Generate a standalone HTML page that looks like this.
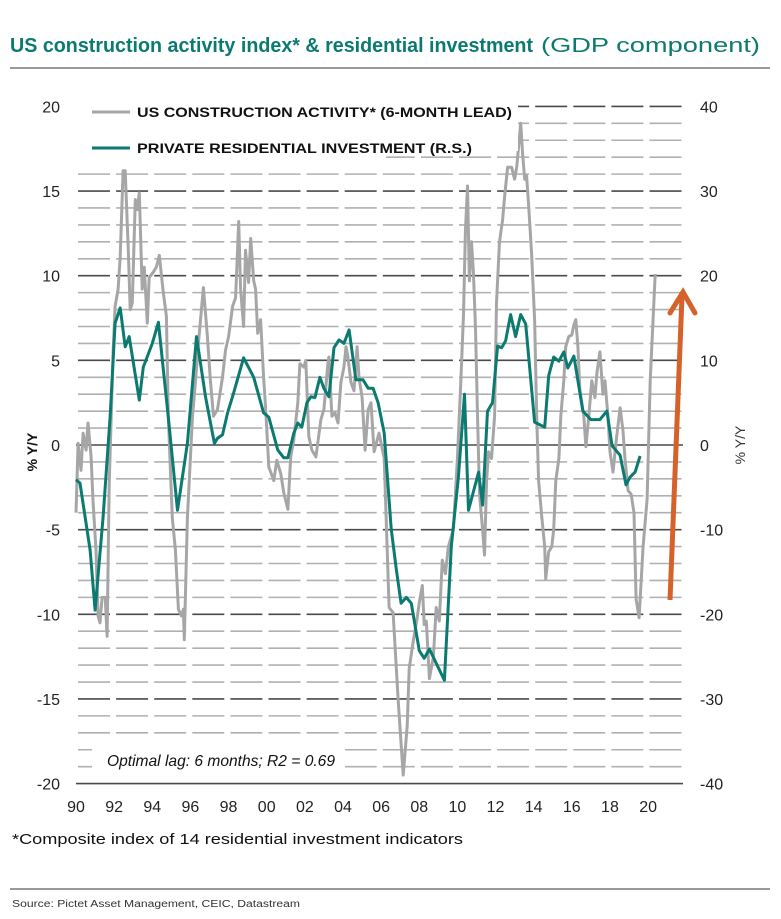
<!DOCTYPE html>
<html><head><meta charset="utf-8"><style>
html,body{margin:0;padding:0;background:#fff;}
svg{display:block;font-family:"Liberation Sans",sans-serif;}
</style></head><body>
<svg id="chart" width="781" height="919" viewBox="0 0 781 919" xmlns="http://www.w3.org/2000/svg">
<text x="10" y="52" font-size="20" font-weight="bold" fill="#0b7a70" textLength="523" lengthAdjust="spacingAndGlyphs">US construction activity index* &amp; residential investment</text>
<text x="541" y="52" font-size="20" fill="#0b7a70" textLength="219" lengthAdjust="spacingAndGlyphs">(GDP component)</text>
<line x1="10" y1="68" x2="770" y2="68" stroke="#333" stroke-width="1"/>
<g id="grid"></g>
<g id="series"></g>
<rect x="78" y="96" width="440" height="55" fill="#fff"/>
<rect x="78" y="150" width="308" height="16" fill="#fff"/>
<g>
<line x1="92" y1="112" x2="130" y2="112" stroke="#a6a6a6" stroke-width="3"/>
<text x="137" y="117" font-size="13.5" font-weight="bold" fill="#111" textLength="375" lengthAdjust="spacingAndGlyphs">US CONSTRUCTION ACTIVITY* (6-MONTH LEAD)</text>
<line x1="92" y1="148" x2="130" y2="148" stroke="#0b7a70" stroke-width="3"/>
<text x="137" y="153" font-size="13.5" font-weight="bold" fill="#111" textLength="335" lengthAdjust="spacingAndGlyphs">PRIVATE RESIDENTIAL INVESTMENT (R.S.)</text>
</g>
<rect x="92" y="740" width="253" height="37" fill="#fff"/>
<text x="107" y="766" font-size="16" font-style="italic" fill="#111" textLength="228" lengthAdjust="spacingAndGlyphs">Optimal lag: 6 months;  R2 = 0.69</text>
<g id="axes"></g>
<text transform="translate(37,452) rotate(-90)" text-anchor="middle" font-size="14" font-weight="bold" fill="#111">% Y/Y</text>
<text transform="translate(745,445) rotate(-90)" text-anchor="middle" font-size="14" fill="#333">% Y/Y</text>
<g>
<line x1="670" y1="600" x2="682" y2="296" stroke="#d5622b" stroke-width="5"/>
<polyline points="670,313 683,292 695,313" fill="none" stroke="#d5622b" stroke-width="5" stroke-linecap="round"/>
</g>
<text x="12" y="844" font-size="15" fill="#111" textLength="451" lengthAdjust="spacingAndGlyphs">*Composite index of 14 residential investment indicators</text>
<line x1="10" y1="889" x2="770" y2="889" stroke="#333" stroke-width="1"/>
<text x="12" y="907" font-size="10" fill="#333" textLength="288" lengthAdjust="spacingAndGlyphs">Source: Pictet Asset Management, CEIC, Datastream</text>
</svg>
<script>
const constructionYears=[1990.00,1990.11,1990.26,1990.37,1990.53,1990.63,1990.79,1990.89,1991.05,1991.16,1991.26,1991.37,1991.53,1991.63,1991.74,1991.95,1992.05,1992.21,1992.32,1992.47,1992.58,1992.74,1992.84,1992.95,1993.11,1993.21,1993.32,1993.47,1993.58,1993.74,1993.84,1994.05,1994.21,1994.37,1994.58,1994.74,1994.84,1995.05,1995.21,1995.37,1995.53,1995.63,1995.68,1995.84,1996.11,1996.26,1996.42,1996.68,1996.89,1997.05,1997.21,1997.42,1997.68,1997.84,1998.00,1998.21,1998.37,1998.53,1998.63,1998.79,1998.89,1999.05,1999.16,1999.32,1999.42,1999.53,1999.68,1999.84,1999.95,2000.11,2000.37,2000.53,2000.74,2000.89,2001.11,2001.26,2001.42,2001.63,2001.74,2001.95,2002.05,2002.21,2002.37,2002.58,2002.84,2003.00,2003.21,2003.26,2003.42,2003.58,2003.74,2003.89,2004.05,2004.16,2004.26,2004.42,2004.58,2004.74,2004.84,2005.00,2005.16,2005.32,2005.47,2005.63,2005.89,2006.16,2006.42,2006.63,2006.89,2007.16,2007.37,2007.47,2007.68,2007.89,2008.00,2008.16,2008.26,2008.37,2008.53,2008.74,2008.89,2009.05,2009.21,2009.37,2009.53,2009.79,2010.00,2010.16,2010.32,2010.42,2010.53,2010.63,2010.74,2010.84,2010.95,2011.05,2011.16,2011.32,2011.42,2011.53,2011.63,2011.79,2011.95,2012.05,2012.21,2012.37,2012.47,2012.63,2012.84,2013.00,2013.11,2013.32,2013.42,2013.53,2013.63,2013.74,2013.89,2014.05,2014.16,2014.26,2014.42,2014.58,2014.63,2014.79,2014.95,2015.05,2015.16,2015.32,2015.42,2015.58,2015.68,2015.84,2016.00,2016.11,2016.21,2016.32,2016.42,2016.63,2016.74,2016.89,2017.05,2017.21,2017.32,2017.47,2017.63,2017.74,2017.89,2018.00,2018.16,2018.32,2018.53,2018.68,2018.79,2018.95,2019.11,2019.26,2019.37,2019.53,2019.74,2019.95,2020.11,2020.37];
const constructionValues=[-4.0,0.1,-1.5,0.7,-0.3,1.3,-0.7,-3.3,-6.2,-10.1,-10.5,-9,-9,-11.3,-2.3,5.6,8.2,9.2,11.1,16.2,16.2,11.5,8,8.4,14.5,13.9,14.9,9.2,10.5,7.2,9.9,10.2,10.5,11.2,9,7.6,1.7,-4.3,-6.2,-9.7,-10.1,-9.7,-11.5,-4.3,1.7,3.7,6,9.3,6.4,3.8,1.7,2.1,4,5.6,6.4,8.2,8.7,13.2,9.2,7,11.5,9.6,12.2,9.7,9.2,6.6,7.4,4,2.1,-1.3,-2.1,-0.9,-1.7,-2.8,-3.8,-0.7,0.3,2.5,4.8,4.6,5,0.5,-0.3,-0.7,1.5,2.1,4.8,5.2,1.7,1.9,1.3,3.7,4.6,5.8,5.2,3.7,3.2,5.8,4,2.8,-0.3,2.1,2.5,-0.4,0.7,-0.8,-9.6,-9.9,-15,-19.5,-16.6,-13.2,-11.6,-10.2,-9.3,-8.3,-10.6,-10.4,-13.8,-12.5,-9.6,-10.4,-6.8,-7.6,-6,-5,-0.8,3.3,7.7,12.6,15.3,9.7,12,10.2,6.9,2,-2.9,-5,-6.5,-2.1,-0.4,-0.8,1.7,8.4,12,13.3,14.6,16.4,16.4,15.7,16.4,19,17.2,15.7,15.9,14.1,11.3,7.4,1.7,-2.1,-4.2,-6,-7.9,-6.3,-6,-5,-2.1,-0.8,1.7,3.8,5.8,6.4,6.5,7.1,7.4,5.8,3.3,1.7,-0.1,1.7,3.8,2.8,4.3,5.5,3,3.8,1.7,-0.4,-1.6,0.2,2.2,0.9,-0.8,-2.7,-2.9,-4,-9.1,-10.2,-6,-3.2,3.8,10.1];
const residentialYears=[1990.00,1990.21,1990.74,1991.00,1991.42,1991.79,1992.05,1992.32,1992.58,1992.79,1993.32,1993.53,1994.00,1994.32,1994.84,1995.32,1995.84,1996.32,1996.79,1997.26,1997.42,1997.68,1997.95,1998.26,1998.79,1999.32,1999.84,2000.11,2000.58,2000.89,2001.11,2001.42,2001.63,2001.84,2002.11,2002.32,2002.53,2002.79,2003.00,2003.26,2003.53,2003.79,2004.05,2004.32,2004.68,2005.05,2005.32,2005.58,2005.84,2006.16,2006.53,2006.79,2007.05,2007.32,2007.58,2008.00,2008.26,2008.53,2009.32,2009.68,2010.05,2010.37,2010.58,2011.11,2011.32,2011.58,2011.84,2012.11,2012.32,2012.53,2012.79,2013.05,2013.32,2013.58,2014.05,2014.58,2014.79,2015.05,2015.32,2015.58,2015.79,2016.11,2016.58,2017.00,2017.47,2017.84,2018.11,2018.53,2018.84,2019.05,2019.32,2019.58];
const residentialValues=[-4.1,-4.5,-12.4,-19.5,-8.5,3.3,14.4,16.2,11.6,12.8,5.3,9.2,12,14.5,3.3,-7.7,0.2,12.8,5.7,0.2,0.8,1.2,3.8,6.1,10.3,8,3.8,3.3,-0.6,-1.5,-1.5,1.4,2.6,2.1,5,5.7,5.6,8,6.7,5.7,11.5,12.4,12,13.6,7.7,7.7,6.7,6.7,5,1.4,-9.9,-14.6,-18.7,-18,-18.7,-24.3,-25.2,-24.1,-27.8,-12,-3.8,6,-7.7,-3.2,-7.1,4,5,11.7,11.5,12.3,15.4,12.8,15.4,14.3,2.7,2.1,8.2,10.4,9.9,11,9.1,10.5,4,3,3,4,-0.1,-1.2,-4.7,-3.8,-3.2,-1.3];
const leftTicks=[20,15,10,5,0,-5,-10,-15,-20];
const rightTicks=[40,30,20,10,0,-10,-20,-30,-40];
const xTickLabels=["90","92","94","96","98","00","02","04","06","08","10","12","14","16","18","20"];
const xTickYears=[1990,1992,1994,1996,1998,2000,2002,2004,2006,2008,2010,2012,2014,2016,2018,2020];

const NS="http://www.w3.org/2000/svg";
const X0=76,PXY=19.07,Y0=445,PXV=16.93;
function xScale(yr){return X0+(yr-1990)*PXY;}
function yLeft(v){return Y0-v*PXV;}
function yRight(v){return Y0-v*PXV/2;}
function mk(tag,attrs,parent){const e=document.createElementNS(NS,tag);for(const k in attrs)e.setAttribute(k,attrs[k]);parent.appendChild(e);return e;}

const grid=document.getElementById('grid');
for(let v=-20;v<=20;v++){
  const major=v%5===0;
  const solid=(v===0||v===-20);
  const l=mk('line',{x1:solid?76:78,x2:683,y1:yLeft(v),y2:yLeft(v),stroke:major?'#4a4a4a':'#b0b0b0','stroke-width':'1.6'},grid);
  if(!solid)l.setAttribute('stroke-dasharray','32 6.1');
  
  
}
const series=document.getElementById('series');
const gp=constructionYears.map((y,i)=>xScale(y).toFixed(1)+','+yLeft(constructionValues[i]).toFixed(1)).join(' ');
const g1=mk('polyline',{points:gp,fill:'none',stroke:'#a6a6a6','stroke-width':'3','stroke-linejoin':'round'},series);


const tp=residentialYears.map((y,i)=>xScale(y).toFixed(1)+','+yRight(residentialValues[i]).toFixed(1)).join(' ');
const g2=mk('polyline',{points:tp,fill:'none',stroke:'#0b7a70','stroke-width':'3','stroke-linejoin':'round'},series);



const axes=document.getElementById('axes');
leftTicks.forEach(v=>{
  const t=mk('text',{x:60,y:yLeft(v)+6,'text-anchor':'end','font-size':'16',fill:'#222'},axes);
  t.textContent=String(v);
  
  
});
rightTicks.forEach(v=>{
  const t=mk('text',{x:700,y:yRight(v)+6,'font-size':'16',fill:'#222'},axes);
  t.textContent=String(v);
  
  
});
xTickYears.forEach((yr,i)=>{
  const t=mk('text',{x:xScale(yr),y:812,'text-anchor':'middle','font-size':'16',fill:'#222'},axes);
  t.textContent=xTickLabels[i];
  
  
});
</script>
</body></html>
